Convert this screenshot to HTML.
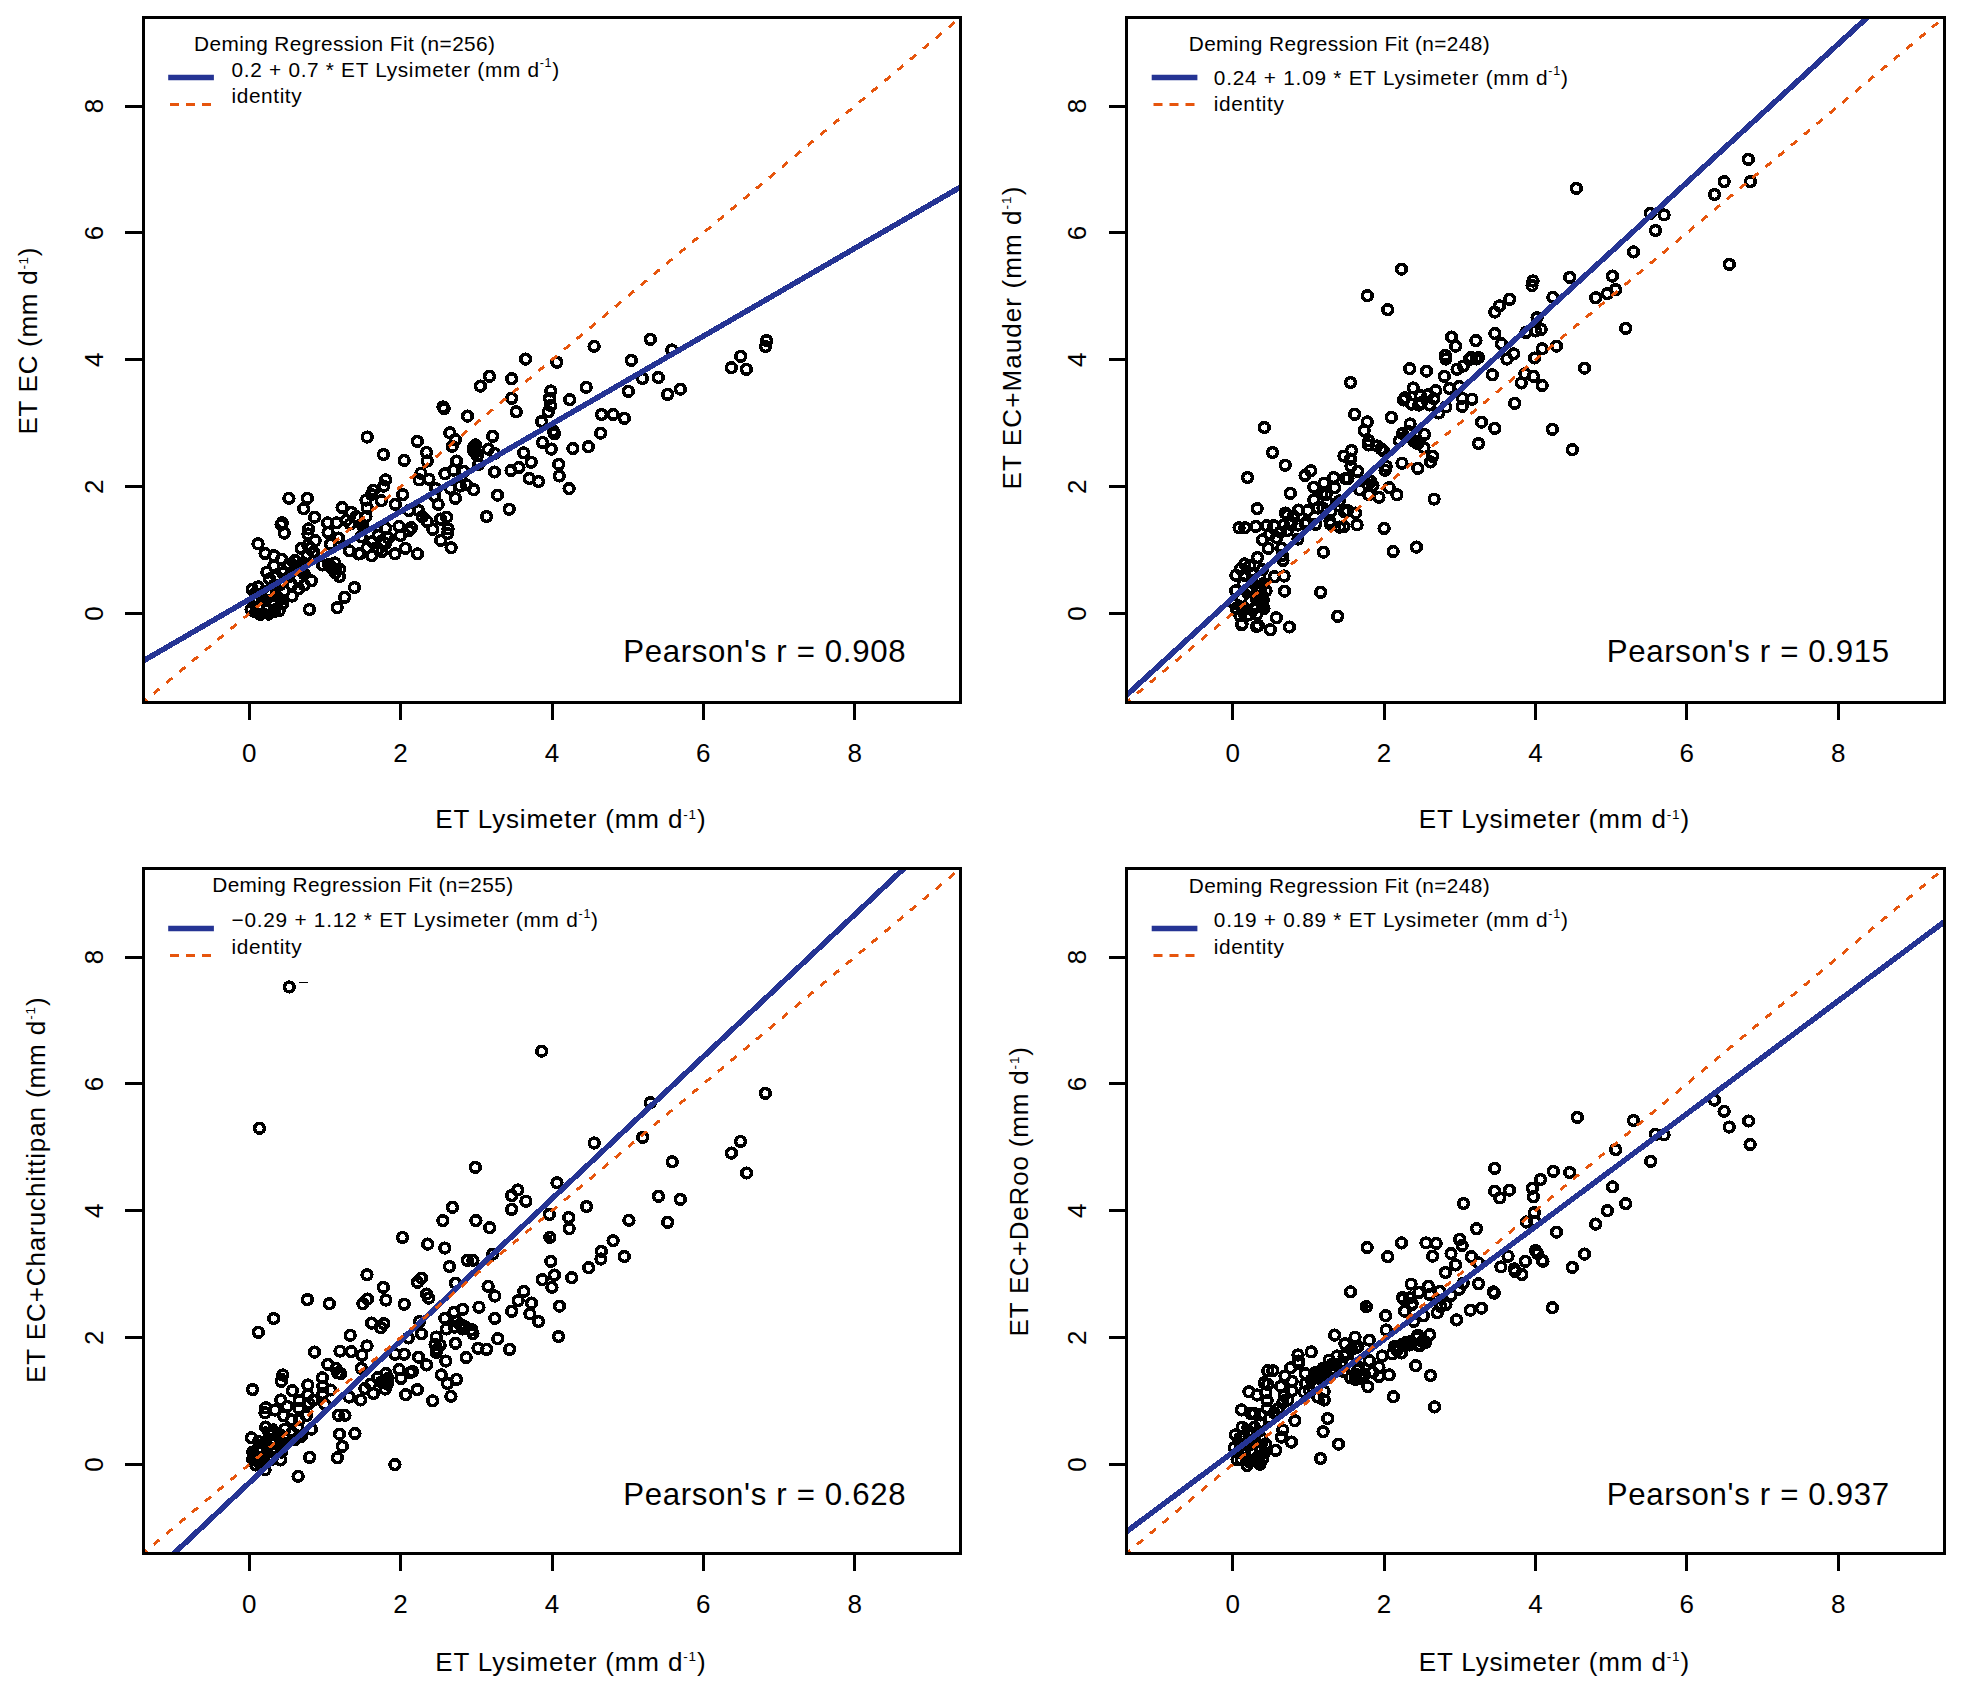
<!DOCTYPE html>
<html><head><meta charset="utf-8"><title>Deming regression</title>
<style>
html,body{margin:0;padding:0;background:#fff;}
svg{display:block;font-family:"Liberation Sans",Arial,sans-serif;fill:#000;}
text{stroke:none}
.pt,.ln,.ax{shape-rendering:crispEdges}
.ax{stroke:#000;stroke-width:3;fill:none;stroke-linecap:butt}
.pt circle{fill:none;stroke:#000;stroke-width:3.6}
.pt circle.f{fill:#000;stroke:none}
.fit{stroke:#253494;stroke-width:5.5;fill:none}
.idn{stroke:#E6550D;stroke-width:2.9;fill:none;stroke-dasharray:7.7 9.03}
.idl{stroke:#E6550D;stroke-width:3;fill:none;stroke-dasharray:9 7}
.tk{font-size:26px;text-anchor:middle}
.lb{font-size:26px}
.lg{font-size:20.8px}
.pr{font-size:31.2px}
.su{font-size:13.5px}
.sl{font-size:12.5px}
</style></head><body>
<svg width="1962" height="1694" viewBox="0 0 1962 1694">
<rect x="0" y="0" width="1962" height="1694" fill="#fff"/>
<defs>
<clipPath id="c0"><rect x="143.2" y="17.3" width="817.5" height="685.0"/></clipPath>
<clipPath id="c1"><rect x="1126.7" y="17.3" width="817.5" height="685.0"/></clipPath>
<clipPath id="c2"><rect x="143.2" y="868.3" width="817.5" height="685.0"/></clipPath>
<clipPath id="c3"><rect x="1126.7" y="868.3" width="817.5" height="685.0"/></clipPath>
</defs>
<g id="panel1">
<g class="pt" clip-path="url(#c0)">
<circle cx="258.0" cy="543.8" r="4.85"/>
<circle cx="284.3" cy="533.1" r="4.85"/>
<circle cx="265.1" cy="553.5" r="4.85"/>
<circle cx="273.9" cy="555.7" r="4.85"/>
<circle cx="281.6" cy="559.4" r="4.85"/>
<circle cx="273.9" cy="565.8" r="4.85"/>
<circle cx="266.9" cy="572.2" r="4.85"/>
<circle cx="307.9" cy="534.0" r="4.85"/>
<circle cx="315.2" cy="540.7" r="4.85"/>
<circle cx="301.2" cy="548.3" r="4.85"/>
<circle cx="307.9" cy="545.3" r="4.85"/>
<circle cx="313.4" cy="552.0" r="4.85"/>
<circle cx="328.1" cy="532.4" r="4.85"/>
<circle cx="338.5" cy="538.0" r="4.85"/>
<circle cx="330.5" cy="544.1" r="4.85"/>
<circle cx="349.5" cy="550.8" r="4.85"/>
<circle cx="358.7" cy="553.9" r="4.85"/>
<circle cx="322.6" cy="564.9" r="4.85"/>
<circle cx="334.8" cy="563.0" r="4.85"/>
<circle cx="339.7" cy="569.1" r="4.85"/>
<circle cx="339.4" cy="576.5" r="4.85"/>
<circle cx="354.4" cy="587.5" r="4.85"/>
<circle cx="344.6" cy="597.3" r="4.85"/>
<circle cx="337.2" cy="607.7" r="4.85"/>
<circle cx="309.4" cy="609.5" r="4.85"/>
<circle cx="311.3" cy="580.8" r="4.85"/>
<circle cx="298.7" cy="588.7" r="4.85"/>
<circle cx="292.0" cy="596.1" r="4.85"/>
<circle cx="279.1" cy="610.7" r="4.85"/>
<circle cx="252.2" cy="589.3" r="4.85"/>
<circle cx="251.0" cy="609.5" r="4.85"/>
<circle cx="260.2" cy="614.4" r="4.85"/>
<circle cx="258.3" cy="606.5" r="4.85"/>
<circle cx="267.5" cy="609.5" r="4.85"/>
<circle cx="265.7" cy="600.3" r="4.85"/>
<circle cx="274.3" cy="611.3" r="4.85"/>
<circle cx="273.6" cy="603.4" r="4.85"/>
<circle cx="260.2" cy="594.2" r="4.85"/>
<circle cx="258.3" cy="586.9" r="4.85"/>
<circle cx="267.5" cy="591.2" r="4.85"/>
<circle cx="276.7" cy="596.1" r="4.85"/>
<circle cx="282.8" cy="603.4" r="4.85"/>
<circle cx="284.0" cy="591.2" r="4.85"/>
<circle cx="292.0" cy="585.0" r="4.85"/>
<circle cx="298.1" cy="578.9" r="4.85"/>
<circle cx="304.2" cy="574.0" r="4.85"/>
<circle cx="295.0" cy="567.9" r="4.85"/>
<circle cx="288.9" cy="564.3" r="4.85"/>
<circle cx="295.0" cy="560.6" r="4.85"/>
<circle cx="301.2" cy="564.3" r="4.85"/>
<circle cx="282.8" cy="572.8" r="4.85"/>
<circle cx="276.7" cy="576.5" r="4.85"/>
<circle cx="269.4" cy="578.9" r="4.85"/>
<circle cx="274.3" cy="585.0" r="4.85"/>
<circle cx="304.2" cy="585.0" r="4.85"/>
<circle cx="288.9" cy="576.5" r="4.85"/>
<circle cx="331.7" cy="567.9" r="4.85"/>
<circle cx="328.7" cy="564.3" r="4.85"/>
<circle cx="335.4" cy="572.8" r="4.85"/>
<circle cx="307.3" cy="554.5" r="4.85"/>
<circle cx="310.3" cy="548.3" r="4.85"/>
<circle cx="255.3" cy="600.3" r="4.85"/>
<circle cx="279.8" cy="585.0" r="4.85"/>
<circle cx="301.2" cy="569.8" r="4.85"/>
<circle cx="367.2" cy="437.1" r="4.85"/>
<circle cx="383.4" cy="454.5" r="4.85"/>
<circle cx="404.2" cy="460.4" r="4.85"/>
<circle cx="417.4" cy="441.4" r="4.85"/>
<circle cx="426.5" cy="452.4" r="4.85"/>
<circle cx="427.2" cy="461.0" r="4.85"/>
<circle cx="449.8" cy="432.8" r="4.85"/>
<circle cx="455.3" cy="439.6" r="4.85"/>
<circle cx="452.2" cy="446.3" r="4.85"/>
<circle cx="473.6" cy="447.5" r="4.85"/>
<circle cx="475.5" cy="451.8" r="4.85"/>
<circle cx="456.5" cy="461.0" r="4.85"/>
<circle cx="453.5" cy="470.2" r="4.85"/>
<circle cx="444.9" cy="473.8" r="4.85"/>
<circle cx="463.9" cy="471.4" r="4.85"/>
<circle cx="421.0" cy="473.2" r="4.85"/>
<circle cx="419.2" cy="479.9" r="4.85"/>
<circle cx="429.0" cy="479.3" r="4.85"/>
<circle cx="385.6" cy="479.9" r="4.85"/>
<circle cx="383.7" cy="486.1" r="4.85"/>
<circle cx="373.3" cy="490.3" r="4.85"/>
<circle cx="371.5" cy="494.6" r="4.85"/>
<circle cx="366.0" cy="500.1" r="4.85"/>
<circle cx="381.3" cy="500.7" r="4.85"/>
<circle cx="402.7" cy="494.6" r="4.85"/>
<circle cx="395.4" cy="504.4" r="4.85"/>
<circle cx="367.2" cy="508.1" r="4.85"/>
<circle cx="342.1" cy="507.5" r="4.85"/>
<circle cx="351.3" cy="512.4" r="4.85"/>
<circle cx="288.9" cy="498.3" r="4.85"/>
<circle cx="307.3" cy="498.3" r="4.85"/>
<circle cx="303.6" cy="508.7" r="4.85"/>
<circle cx="314.6" cy="517.2" r="4.85"/>
<circle cx="282.2" cy="522.8" r="4.85"/>
<circle cx="281.0" cy="524.6" r="4.85"/>
<circle cx="327.5" cy="522.8" r="4.85"/>
<circle cx="336.6" cy="522.8" r="4.85"/>
<circle cx="346.4" cy="520.3" r="4.85"/>
<circle cx="356.2" cy="516.6" r="4.85"/>
<circle cx="366.0" cy="516.6" r="4.85"/>
<circle cx="362.3" cy="525.2" r="4.85"/>
<circle cx="435.7" cy="488.5" r="4.85"/>
<circle cx="434.5" cy="495.8" r="4.85"/>
<circle cx="438.2" cy="504.4" r="4.85"/>
<circle cx="455.3" cy="498.3" r="4.85"/>
<circle cx="450.4" cy="488.5" r="4.85"/>
<circle cx="460.2" cy="486.1" r="4.85"/>
<circle cx="466.3" cy="484.8" r="4.85"/>
<circle cx="473.6" cy="489.7" r="4.85"/>
<circle cx="418.6" cy="510.5" r="4.85"/>
<circle cx="422.3" cy="516.6" r="4.85"/>
<circle cx="427.2" cy="521.5" r="4.85"/>
<circle cx="440.6" cy="519.1" r="4.85"/>
<circle cx="446.7" cy="517.2" r="4.85"/>
<circle cx="399.0" cy="526.4" r="4.85"/>
<circle cx="385.6" cy="528.3" r="4.85"/>
<circle cx="411.3" cy="527.6" r="4.85"/>
<circle cx="448.0" cy="528.9" r="4.85"/>
<circle cx="308.5" cy="528.9" r="4.85"/>
<circle cx="350.1" cy="524.0" r="4.85"/>
<circle cx="408.8" cy="510.5" r="4.85"/>
<circle cx="486.6" cy="516.5" r="4.85"/>
<circle cx="509.2" cy="509.2" r="4.85"/>
<circle cx="432.8" cy="529.4" r="4.85"/>
<circle cx="447.5" cy="533.6" r="4.85"/>
<circle cx="440.7" cy="540.4" r="4.85"/>
<circle cx="451.1" cy="547.7" r="4.85"/>
<circle cx="417.5" cy="553.8" r="4.85"/>
<circle cx="405.3" cy="548.3" r="4.85"/>
<circle cx="394.9" cy="553.8" r="4.85"/>
<circle cx="400.4" cy="535.5" r="4.85"/>
<circle cx="378.3" cy="535.5" r="4.85"/>
<circle cx="372.2" cy="541.6" r="4.85"/>
<circle cx="367.3" cy="547.7" r="4.85"/>
<circle cx="371.6" cy="555.7" r="4.85"/>
<circle cx="360.0" cy="553.8" r="4.85"/>
<circle cx="378.3" cy="548.9" r="4.85"/>
<circle cx="384.5" cy="542.8" r="4.85"/>
<circle cx="388.1" cy="537.9" r="4.85"/>
<circle cx="361.2" cy="536.7" r="4.85"/>
<circle cx="408.9" cy="530.6" r="4.85"/>
<circle cx="382.0" cy="551.4" r="4.85"/>
<circle cx="480.4" cy="386.1" r="4.85"/>
<circle cx="511.6" cy="398.3" r="4.85"/>
<circle cx="516.2" cy="411.8" r="4.85"/>
<circle cx="550.7" cy="391.0" r="4.85"/>
<circle cx="549.5" cy="398.3" r="4.85"/>
<circle cx="550.7" cy="405.7" r="4.85"/>
<circle cx="548.3" cy="411.8" r="4.85"/>
<circle cx="541.6" cy="421.6" r="4.85"/>
<circle cx="569.7" cy="399.6" r="4.85"/>
<circle cx="586.2" cy="387.3" r="4.85"/>
<circle cx="628.4" cy="391.3" r="4.85"/>
<circle cx="667.6" cy="394.4" r="4.85"/>
<circle cx="680.4" cy="389.2" r="4.85"/>
<circle cx="601.5" cy="414.5" r="4.85"/>
<circle cx="613.1" cy="414.5" r="4.85"/>
<circle cx="624.4" cy="418.3" r="4.85"/>
<circle cx="600.6" cy="433.2" r="4.85"/>
<circle cx="588.4" cy="446.7" r="4.85"/>
<circle cx="572.8" cy="448.5" r="4.85"/>
<circle cx="553.2" cy="430.8" r="4.85"/>
<circle cx="554.4" cy="433.8" r="4.85"/>
<circle cx="542.5" cy="442.4" r="4.85"/>
<circle cx="551.3" cy="449.1" r="4.85"/>
<circle cx="492.6" cy="436.3" r="4.85"/>
<circle cx="475.5" cy="444.8" r="4.85"/>
<circle cx="488.3" cy="449.1" r="4.85"/>
<circle cx="473.7" cy="450.9" r="4.85"/>
<circle cx="477.3" cy="455.8" r="4.85"/>
<circle cx="494.5" cy="453.4" r="4.85"/>
<circle cx="478.6" cy="464.4" r="4.85"/>
<circle cx="523.6" cy="452.8" r="4.85"/>
<circle cx="531.2" cy="462.2" r="4.85"/>
<circle cx="518.9" cy="467.5" r="4.85"/>
<circle cx="511.0" cy="470.5" r="4.85"/>
<circle cx="494.5" cy="472.0" r="4.85"/>
<circle cx="529.3" cy="478.5" r="4.85"/>
<circle cx="538.5" cy="481.5" r="4.85"/>
<circle cx="558.7" cy="464.4" r="4.85"/>
<circle cx="559.3" cy="476.0" r="4.85"/>
<circle cx="569.1" cy="488.6" r="4.85"/>
<circle cx="497.5" cy="495.2" r="4.85"/>
<circle cx="525.6" cy="359.1" r="4.85"/>
<circle cx="556.8" cy="362.2" r="4.85"/>
<circle cx="594.1" cy="346.3" r="4.85"/>
<circle cx="650.4" cy="339.3" r="4.85"/>
<circle cx="671.8" cy="350.0" r="4.85"/>
<circle cx="631.4" cy="360.4" r="4.85"/>
<circle cx="642.4" cy="378.5" r="4.85"/>
<circle cx="658.3" cy="377.5" r="4.85"/>
<circle cx="511.6" cy="378.7" r="4.85"/>
<circle cx="489.5" cy="376.3" r="4.85"/>
<circle cx="740.7" cy="356.3" r="4.85"/>
<circle cx="731.3" cy="367.7" r="4.85"/>
<circle cx="746.4" cy="369.3" r="4.85"/>
<circle cx="766.6" cy="340.6" r="4.85"/>
<circle cx="765.4" cy="346.5" r="4.85"/>
<circle cx="443.0" cy="406.9" r="4.85"/>
<circle cx="444.2" cy="408.7" r="4.85"/>
<circle cx="467.5" cy="416.1" r="4.85"/>
<circle class="f" cx="253.5" cy="592.9" r="5"/>
<circle class="f" cx="253.5" cy="605.1" r="5"/>
<circle class="f" cx="253.5" cy="612.8" r="5"/>
<circle class="f" cx="264.2" cy="589.8" r="5"/>
<circle class="f" cx="264.2" cy="602.1" r="5"/>
<circle class="f" cx="264.2" cy="612.8" r="5"/>
<circle class="f" cx="274.9" cy="597.5" r="5"/>
<circle class="f" cx="274.9" cy="608.2" r="5"/>
<circle class="f" cx="282.6" cy="600.6" r="5"/>
<circle class="f" cx="259.6" cy="615.8" r="5"/>
<circle class="f" cx="268.8" cy="615.8" r="5"/>
<circle class="f" cx="291.7" cy="562.3" r="5"/>
<circle class="f" cx="297.9" cy="570.0" r="5"/>
<circle class="f" cx="305.5" cy="562.3" r="5"/>
<circle class="f" cx="305.5" cy="574.6" r="5"/>
<circle class="f" cx="291.7" cy="573.0" r="5"/>
<circle class="f" cx="333.0" cy="563.9" r="3"/>
<circle class="f" cx="339.1" cy="568.4" r="3"/>
<circle class="f" cx="383.5" cy="537.9" r="3"/>
<circle class="f" cx="389.6" cy="542.4" r="3"/>
<circle class="f" cx="422.5" cy="516.5" r="3"/>
<circle class="f" cx="380.4" cy="537.9" r="3.5"/>
<circle class="f" cx="388.1" cy="545.5" r="3.5"/>
<circle class="f" cx="374.3" cy="545.5" r="3.5"/>
<circle class="f" cx="383.5" cy="548.6" r="3.5"/>
<circle class="f" cx="392.7" cy="537.9" r="3.5"/>
<circle class="f" cx="362.1" cy="525.6" r="3.5"/>
<circle class="f" cx="352.9" cy="516.5" r="3.5"/>
</g>
<g class="ln" clip-path="url(#c0)">
<line class="fit" x1="139.4" y1="663.1" x2="968.3" y2="182.5"/>
<line class="idn" stroke-dashoffset="3.1" x1="143.2" y1="702.3" x2="960.7" y2="17.3"/>
</g>
<rect class="ax" x="143.2" y="17.3" width="817.5" height="685.0"/>
<line class="ax" x1="249.2" y1="702.3" x2="249.2" y2="720.3"/>
<text class="tk" x="249.2" y="761.5">0</text>
<line class="ax" x1="143.2" y1="613.5" x2="125.2" y2="613.5"/>
<text class="tk" transform="translate(102.7,613.5) rotate(-90)">0</text>
<line class="ax" x1="400.6" y1="702.3" x2="400.6" y2="720.3"/>
<text class="tk" x="400.6" y="761.5">2</text>
<line class="ax" x1="143.2" y1="486.7" x2="125.2" y2="486.7"/>
<text class="tk" transform="translate(102.7,486.7) rotate(-90)">2</text>
<line class="ax" x1="552.0" y1="702.3" x2="552.0" y2="720.3"/>
<text class="tk" x="552.0" y="761.5">4</text>
<line class="ax" x1="143.2" y1="359.8" x2="125.2" y2="359.8"/>
<text class="tk" transform="translate(102.7,359.8) rotate(-90)">4</text>
<line class="ax" x1="703.3" y1="702.3" x2="703.3" y2="720.3"/>
<text class="tk" x="703.3" y="761.5">6</text>
<line class="ax" x1="143.2" y1="232.9" x2="125.2" y2="232.9"/>
<text class="tk" transform="translate(102.7,232.9) rotate(-90)">6</text>
<line class="ax" x1="854.7" y1="702.3" x2="854.7" y2="720.3"/>
<text class="tk" x="854.7" y="761.5">8</text>
<line class="ax" x1="143.2" y1="106.1" x2="125.2" y2="106.1"/>
<text class="tk" transform="translate(102.7,106.1) rotate(-90)">8</text>
<text class="lb" x="435.3" y="828.2" textLength="270.3" lengthAdjust="spacing">ET Lysimeter (mm d<tspan class="su" dy="-9.2">-1</tspan><tspan dy="9.2">)</tspan></text>
<text class="lb" transform="translate(37.0,434.5) rotate(-90)" textLength="187" lengthAdjust="spacing">ET EC (mm d<tspan class="su" dy="-9.2">-1</tspan><tspan dy="9.2">)</tspan></text>
<text class="lg" id="t0" x="194.0" y="50.5"textLength="301" lengthAdjust="spacing">Deming Regression Fit (n=256)</text>
<line class="fit" x1="168.2" y1="77.5" x2="213.9" y2="77.5"/>
<text class="lg" id="e0" x="231.6" y="76.5" textLength="327.5" lengthAdjust="spacing">0.2 + 0.7 * ET Lysimeter (mm d<tspan class="sl" dy="-9.3">-1</tspan><tspan dy="9.3">)</tspan></text>
<line class="idl" x1="170.0" y1="104.5" x2="212.2" y2="104.5"/>
<text class="lg" x="231.6" y="103.4" textLength="70" lengthAdjust="spacing">identity</text>
<text class="pr" id="r0" x="623.2" y="662.4" textLength="282.4" lengthAdjust="spacing">Pearson's r = 0.908</text>
</g>
<g id="panel2">
<g class="pt" clip-path="url(#c1)">
<circle cx="1239.1" cy="527.8" r="4.85"/>
<circle cx="1244.8" cy="527.8" r="4.85"/>
<circle cx="1255.8" cy="526.4" r="4.85"/>
<circle cx="1266.8" cy="525.7" r="4.85"/>
<circle cx="1273.8" cy="525.7" r="4.85"/>
<circle cx="1283.8" cy="525.0" r="4.85"/>
<circle cx="1290.8" cy="524.3" r="4.85"/>
<circle cx="1297.9" cy="525.0" r="4.85"/>
<circle cx="1305.0" cy="523.5" r="4.85"/>
<circle cx="1262.5" cy="539.8" r="4.85"/>
<circle cx="1268.2" cy="548.3" r="4.85"/>
<circle cx="1269.6" cy="534.2" r="4.85"/>
<circle cx="1276.7" cy="537.7" r="4.85"/>
<circle cx="1280.2" cy="532.0" r="4.85"/>
<circle cx="1287.3" cy="530.6" r="4.85"/>
<circle cx="1257.5" cy="557.5" r="4.85"/>
<circle cx="1249.8" cy="566.0" r="4.85"/>
<circle cx="1240.5" cy="568.9" r="4.85"/>
<circle cx="1235.9" cy="575.3" r="4.85"/>
<circle cx="1281.6" cy="548.3" r="4.85"/>
<circle cx="1282.3" cy="555.4" r="4.85"/>
<circle cx="1283.0" cy="560.4" r="4.85"/>
<circle cx="1297.9" cy="539.1" r="4.85"/>
<circle cx="1315.6" cy="524.3" r="4.85"/>
<circle cx="1330.5" cy="524.3" r="4.85"/>
<circle cx="1323.4" cy="552.2" r="4.85"/>
<circle cx="1274.5" cy="576.7" r="4.85"/>
<circle cx="1284.1" cy="576.0" r="4.85"/>
<circle cx="1284.5" cy="591.2" r="4.85"/>
<circle cx="1320.6" cy="592.3" r="4.85"/>
<circle cx="1337.6" cy="616.3" r="4.85"/>
<circle cx="1276.3" cy="617.8" r="4.85"/>
<circle cx="1289.4" cy="627.0" r="4.85"/>
<circle cx="1270.3" cy="629.8" r="4.85"/>
<circle cx="1258.3" cy="625.5" r="4.85"/>
<circle cx="1256.5" cy="626.6" r="4.85"/>
<circle cx="1241.6" cy="624.8" r="4.85"/>
<circle cx="1242.1" cy="623.8" r="4.85"/>
<circle cx="1235.6" cy="590.8" r="4.85"/>
<circle cx="1243.4" cy="583.8" r="4.85"/>
<circle cx="1251.9" cy="580.2" r="4.85"/>
<circle cx="1259.7" cy="576.7" r="4.85"/>
<circle cx="1248.3" cy="590.8" r="4.85"/>
<circle cx="1256.8" cy="587.3" r="4.85"/>
<circle cx="1263.9" cy="583.8" r="4.85"/>
<circle cx="1266.0" cy="590.8" r="4.85"/>
<circle cx="1241.3" cy="597.9" r="4.85"/>
<circle cx="1249.8" cy="601.5" r="4.85"/>
<circle cx="1259.0" cy="597.9" r="4.85"/>
<circle cx="1262.5" cy="605.0" r="4.85"/>
<circle cx="1254.0" cy="608.5" r="4.85"/>
<circle cx="1244.8" cy="608.5" r="4.85"/>
<circle cx="1236.3" cy="608.5" r="4.85"/>
<circle cx="1239.8" cy="615.6" r="4.85"/>
<circle cx="1248.3" cy="614.9" r="4.85"/>
<circle cx="1256.8" cy="614.2" r="4.85"/>
<circle cx="1263.9" cy="608.5" r="4.85"/>
<circle cx="1234.2" cy="603.6" r="4.85"/>
<circle cx="1259.7" cy="592.3" r="4.85"/>
<circle cx="1244.8" cy="575.3" r="4.85"/>
<circle cx="1251.9" cy="573.8" r="4.85"/>
<circle cx="1262.5" cy="569.6" r="4.85"/>
<circle cx="1339.7" cy="527.1" r="4.85"/>
<circle cx="1244.8" cy="563.9" r="4.85"/>
<circle cx="1264.3" cy="427.5" r="4.85"/>
<circle cx="1272.5" cy="452.5" r="4.85"/>
<circle cx="1285.2" cy="465.2" r="4.85"/>
<circle cx="1247.5" cy="477.5" r="4.85"/>
<circle cx="1290.3" cy="493.3" r="4.85"/>
<circle cx="1257.2" cy="508.6" r="4.85"/>
<circle cx="1305.1" cy="475.4" r="4.85"/>
<circle cx="1310.7" cy="470.8" r="4.85"/>
<circle cx="1354.6" cy="414.3" r="4.85"/>
<circle cx="1367.3" cy="421.9" r="4.85"/>
<circle cx="1364.2" cy="430.6" r="4.85"/>
<circle cx="1391.3" cy="417.3" r="4.85"/>
<circle cx="1410.1" cy="424.0" r="4.85"/>
<circle cx="1368.8" cy="440.8" r="4.85"/>
<circle cx="1368.3" cy="444.9" r="4.85"/>
<circle cx="1377.0" cy="445.9" r="4.85"/>
<circle cx="1381.1" cy="448.9" r="4.85"/>
<circle cx="1383.6" cy="451.0" r="4.85"/>
<circle cx="1351.5" cy="450.5" r="4.85"/>
<circle cx="1343.9" cy="456.1" r="4.85"/>
<circle cx="1350.5" cy="459.1" r="4.85"/>
<circle cx="1351.0" cy="466.3" r="4.85"/>
<circle cx="1357.6" cy="471.4" r="4.85"/>
<circle cx="1333.7" cy="477.5" r="4.85"/>
<circle cx="1324.0" cy="483.1" r="4.85"/>
<circle cx="1313.8" cy="487.2" r="4.85"/>
<circle cx="1334.7" cy="487.7" r="4.85"/>
<circle cx="1345.4" cy="478.5" r="4.85"/>
<circle cx="1347.9" cy="478.5" r="4.85"/>
<circle cx="1386.2" cy="466.3" r="4.85"/>
<circle cx="1385.1" cy="470.3" r="4.85"/>
<circle cx="1402.0" cy="463.2" r="4.85"/>
<circle cx="1417.8" cy="468.3" r="4.85"/>
<circle cx="1370.9" cy="481.5" r="4.85"/>
<circle cx="1367.8" cy="484.6" r="4.85"/>
<circle cx="1372.9" cy="485.6" r="4.85"/>
<circle cx="1359.7" cy="489.7" r="4.85"/>
<circle cx="1368.8" cy="494.8" r="4.85"/>
<circle cx="1379.0" cy="497.3" r="4.85"/>
<circle cx="1389.2" cy="487.7" r="4.85"/>
<circle cx="1396.9" cy="494.8" r="4.85"/>
<circle cx="1313.8" cy="499.9" r="4.85"/>
<circle cx="1321.9" cy="493.8" r="4.85"/>
<circle cx="1326.0" cy="494.8" r="4.85"/>
<circle cx="1327.0" cy="501.9" r="4.85"/>
<circle cx="1317.9" cy="508.1" r="4.85"/>
<circle cx="1323.0" cy="508.1" r="4.85"/>
<circle cx="1298.5" cy="510.1" r="4.85"/>
<circle cx="1307.7" cy="510.6" r="4.85"/>
<circle cx="1285.2" cy="513.1" r="4.85"/>
<circle cx="1287.3" cy="515.2" r="4.85"/>
<circle cx="1293.4" cy="516.2" r="4.85"/>
<circle cx="1347.4" cy="510.6" r="4.85"/>
<circle cx="1344.4" cy="511.6" r="4.85"/>
<circle cx="1355.6" cy="513.1" r="4.85"/>
<circle cx="1339.3" cy="500.9" r="4.85"/>
<circle cx="1331.1" cy="511.1" r="4.85"/>
<circle cx="1343.9" cy="526.4" r="4.85"/>
<circle cx="1357.1" cy="524.9" r="4.85"/>
<circle cx="1384.1" cy="528.4" r="4.85"/>
<circle cx="1402.5" cy="433.6" r="4.85"/>
<circle cx="1399.4" cy="440.8" r="4.85"/>
<circle cx="1408.6" cy="431.6" r="4.85"/>
<circle cx="1413.7" cy="440.8" r="4.85"/>
<circle cx="1417.8" cy="443.8" r="4.85"/>
<circle cx="1411.6" cy="404.1" r="4.85"/>
<circle cx="1403.5" cy="400.0" r="4.85"/>
<circle cx="1418.8" cy="405.1" r="4.85"/>
<circle cx="1306.6" cy="522.3" r="4.85"/>
<circle cx="1291.4" cy="522.3" r="4.85"/>
<circle cx="1393.2" cy="551.5" r="4.85"/>
<circle cx="1416.4" cy="547.1" r="4.85"/>
<circle cx="1330.0" cy="521.4" r="4.85"/>
<circle cx="1409.7" cy="368.7" r="4.85"/>
<circle cx="1426.5" cy="371.2" r="4.85"/>
<circle cx="1444.3" cy="376.3" r="4.85"/>
<circle cx="1457.1" cy="369.2" r="4.85"/>
<circle cx="1463.2" cy="366.1" r="4.85"/>
<circle cx="1445.9" cy="359.0" r="4.85"/>
<circle cx="1476.5" cy="359.0" r="4.85"/>
<circle cx="1469.3" cy="359.5" r="4.85"/>
<circle cx="1507.0" cy="359.0" r="4.85"/>
<circle cx="1492.3" cy="374.8" r="4.85"/>
<circle cx="1534.6" cy="358.0" r="4.85"/>
<circle cx="1584.5" cy="368.2" r="4.85"/>
<circle cx="1524.9" cy="373.8" r="4.85"/>
<circle cx="1533.5" cy="376.3" r="4.85"/>
<circle cx="1521.3" cy="382.9" r="4.85"/>
<circle cx="1542.2" cy="385.5" r="4.85"/>
<circle cx="1514.7" cy="403.3" r="4.85"/>
<circle cx="1413.3" cy="388.0" r="4.85"/>
<circle cx="1405.1" cy="397.7" r="4.85"/>
<circle cx="1420.4" cy="395.7" r="4.85"/>
<circle cx="1421.4" cy="402.8" r="4.85"/>
<circle cx="1428.0" cy="394.7" r="4.85"/>
<circle cx="1429.6" cy="404.9" r="4.85"/>
<circle cx="1435.7" cy="390.6" r="4.85"/>
<circle cx="1433.6" cy="398.7" r="4.85"/>
<circle cx="1449.4" cy="388.5" r="4.85"/>
<circle cx="1459.1" cy="386.5" r="4.85"/>
<circle cx="1462.2" cy="398.2" r="4.85"/>
<circle cx="1471.9" cy="399.2" r="4.85"/>
<circle cx="1462.2" cy="406.4" r="4.85"/>
<circle cx="1445.9" cy="406.9" r="4.85"/>
<circle cx="1438.7" cy="413.0" r="4.85"/>
<circle cx="1424.5" cy="434.4" r="4.85"/>
<circle cx="1416.8" cy="441.5" r="4.85"/>
<circle cx="1424.0" cy="447.7" r="4.85"/>
<circle cx="1481.5" cy="422.2" r="4.85"/>
<circle cx="1494.8" cy="428.3" r="4.85"/>
<circle cx="1478.5" cy="443.6" r="4.85"/>
<circle cx="1552.4" cy="429.3" r="4.85"/>
<circle cx="1572.3" cy="449.7" r="4.85"/>
<circle cx="1432.6" cy="456.3" r="4.85"/>
<circle cx="1430.6" cy="461.9" r="4.85"/>
<circle cx="1434.1" cy="499.1" r="4.85"/>
<circle cx="1401.5" cy="269.2" r="4.85"/>
<circle cx="1533.0" cy="281.0" r="4.85"/>
<circle cx="1532.0" cy="285.6" r="4.85"/>
<circle cx="1569.7" cy="277.4" r="4.85"/>
<circle cx="1509.6" cy="299.3" r="4.85"/>
<circle cx="1499.4" cy="305.9" r="4.85"/>
<circle cx="1494.8" cy="312.1" r="4.85"/>
<circle cx="1552.9" cy="297.3" r="4.85"/>
<circle cx="1595.7" cy="297.8" r="4.85"/>
<circle cx="1537.1" cy="317.7" r="4.85"/>
<circle cx="1541.2" cy="329.4" r="4.85"/>
<circle cx="1535.6" cy="330.9" r="4.85"/>
<circle cx="1525.9" cy="332.4" r="4.85"/>
<circle cx="1494.8" cy="333.5" r="4.85"/>
<circle cx="1501.4" cy="343.7" r="4.85"/>
<circle cx="1451.5" cy="337.0" r="4.85"/>
<circle cx="1455.6" cy="346.2" r="4.85"/>
<circle cx="1445.4" cy="355.4" r="4.85"/>
<circle cx="1475.9" cy="340.6" r="4.85"/>
<circle cx="1471.4" cy="357.4" r="4.85"/>
<circle cx="1478.5" cy="357.4" r="4.85"/>
<circle cx="1513.7" cy="353.9" r="4.85"/>
<circle cx="1542.2" cy="348.8" r="4.85"/>
<circle cx="1556.5" cy="346.2" r="4.85"/>
<circle cx="1576.4" cy="188.4" r="4.85"/>
<circle cx="1748.4" cy="159.4" r="4.85"/>
<circle cx="1750.4" cy="181.6" r="4.85"/>
<circle cx="1724.2" cy="181.6" r="4.85"/>
<circle cx="1714.6" cy="194.5" r="4.85"/>
<circle cx="1650.3" cy="213.4" r="4.85"/>
<circle cx="1664.1" cy="214.9" r="4.85"/>
<circle cx="1655.4" cy="230.5" r="4.85"/>
<circle cx="1633.5" cy="251.9" r="4.85"/>
<circle cx="1729.3" cy="264.4" r="4.85"/>
<circle cx="1612.4" cy="276.1" r="4.85"/>
<circle cx="1615.6" cy="289.6" r="4.85"/>
<circle cx="1607.4" cy="293.6" r="4.85"/>
<circle cx="1625.7" cy="328.3" r="4.85"/>
<circle cx="1367.3" cy="295.7" r="4.85"/>
<circle cx="1387.7" cy="309.6" r="4.85"/>
<circle cx="1350.5" cy="382.5" r="4.85"/>
<circle class="f" cx="1238.6" cy="604.3" r="5"/>
<circle class="f" cx="1246.8" cy="594.1" r="5"/>
<circle class="f" cx="1254.9" cy="585.9" r="5"/>
<circle class="f" cx="1263.1" cy="581.8" r="5"/>
<circle class="f" cx="1246.8" cy="608.3" r="5"/>
<circle class="f" cx="1254.9" cy="600.2" r="5"/>
<circle class="f" cx="1263.1" cy="594.1" r="5"/>
<circle class="f" cx="1242.7" cy="614.5" r="5"/>
<circle class="f" cx="1252.9" cy="612.4" r="5"/>
<circle class="f" cx="1261.1" cy="606.3" r="5"/>
<circle class="f" cx="1265.1" cy="600.2" r="5"/>
<circle class="f" cx="1271.3" cy="530.9" r="3"/>
<circle class="f" cx="1279.4" cy="534.9" r="3"/>
<circle class="f" cx="1318.1" cy="494.2" r="3"/>
<circle class="f" cx="1365.0" cy="481.9" r="3"/>
<circle class="f" cx="1373.2" cy="484.0" r="3"/>
<circle class="f" cx="1401.7" cy="435.0" r="3"/>
<circle class="f" cx="1414.0" cy="441.2" r="3"/>
</g>
<g class="ln" clip-path="url(#c1)">
<line class="fit" x1="1122.9" y1="698.5" x2="1951.8" y2="-59.9"/>
<line class="idn" stroke-dashoffset="3.1" x1="1126.7" y1="702.3" x2="1944.2" y2="17.3"/>
</g>
<rect class="ax" x="1126.7" y="17.3" width="817.5" height="685.0"/>
<line class="ax" x1="1232.7" y1="702.3" x2="1232.7" y2="720.3"/>
<text class="tk" x="1232.7" y="761.5">0</text>
<line class="ax" x1="1126.7" y1="613.5" x2="1108.7" y2="613.5"/>
<text class="tk" transform="translate(1086.2,613.5) rotate(-90)">0</text>
<line class="ax" x1="1384.1" y1="702.3" x2="1384.1" y2="720.3"/>
<text class="tk" x="1384.1" y="761.5">2</text>
<line class="ax" x1="1126.7" y1="486.7" x2="1108.7" y2="486.7"/>
<text class="tk" transform="translate(1086.2,486.7) rotate(-90)">2</text>
<line class="ax" x1="1535.5" y1="702.3" x2="1535.5" y2="720.3"/>
<text class="tk" x="1535.5" y="761.5">4</text>
<line class="ax" x1="1126.7" y1="359.8" x2="1108.7" y2="359.8"/>
<text class="tk" transform="translate(1086.2,359.8) rotate(-90)">4</text>
<line class="ax" x1="1686.8" y1="702.3" x2="1686.8" y2="720.3"/>
<text class="tk" x="1686.8" y="761.5">6</text>
<line class="ax" x1="1126.7" y1="232.9" x2="1108.7" y2="232.9"/>
<text class="tk" transform="translate(1086.2,232.9) rotate(-90)">6</text>
<line class="ax" x1="1838.2" y1="702.3" x2="1838.2" y2="720.3"/>
<text class="tk" x="1838.2" y="761.5">8</text>
<line class="ax" x1="1126.7" y1="106.1" x2="1108.7" y2="106.1"/>
<text class="tk" transform="translate(1086.2,106.1) rotate(-90)">8</text>
<text class="lb" x="1418.8" y="828.2" textLength="270.3" lengthAdjust="spacing">ET Lysimeter (mm d<tspan class="su" dy="-9.2">-1</tspan><tspan dy="9.2">)</tspan></text>
<text class="lb" transform="translate(1020.5,489.4) rotate(-90)" textLength="302.8" lengthAdjust="spacing">ET EC+Mauder (mm d<tspan class="su" dy="-9.2">-1</tspan><tspan dy="9.2">)</tspan></text>
<text class="lg" id="t1" x="1188.7" y="50.5"textLength="301" lengthAdjust="spacing">Deming Regression Fit (n=248)</text>
<line class="fit" x1="1151.7" y1="77.5" x2="1197.4" y2="77.5"/>
<text class="lg" id="e1" x="1213.8" y="84.7" textLength="354.1" lengthAdjust="spacing">0.24 + 1.09 * ET Lysimeter (mm d<tspan class="sl" dy="-9.3">-1</tspan><tspan dy="9.3">)</tspan></text>
<line class="idl" x1="1153.5" y1="104.5" x2="1195.7" y2="104.5"/>
<text class="lg" x="1213.8" y="110.7" textLength="70" lengthAdjust="spacing">identity</text>
<text class="pr" id="r1" x="1606.7" y="662.4" textLength="282.4" lengthAdjust="spacing">Pearson's r = 0.915</text>
</g>
<g id="panel3">
<g class="pt" clip-path="url(#c2)">
<circle cx="252.5" cy="1389.6" r="4.85"/>
<circle cx="282.8" cy="1375.0" r="4.85"/>
<circle cx="281.4" cy="1381.4" r="4.85"/>
<circle cx="322.4" cy="1377.8" r="4.85"/>
<circle cx="292.4" cy="1390.7" r="4.85"/>
<circle cx="307.8" cy="1385.0" r="4.85"/>
<circle cx="322.8" cy="1386.4" r="4.85"/>
<circle cx="337.8" cy="1372.9" r="4.85"/>
<circle cx="340.6" cy="1373.6" r="4.85"/>
<circle cx="280.7" cy="1400.0" r="4.85"/>
<circle cx="265.7" cy="1407.8" r="4.85"/>
<circle cx="265.0" cy="1412.8" r="4.85"/>
<circle cx="275.0" cy="1410.0" r="4.85"/>
<circle cx="287.4" cy="1406.4" r="4.85"/>
<circle cx="299.2" cy="1400.7" r="4.85"/>
<circle cx="298.9" cy="1408.5" r="4.85"/>
<circle cx="307.8" cy="1395.0" r="4.85"/>
<circle cx="313.5" cy="1400.0" r="4.85"/>
<circle cx="309.2" cy="1403.5" r="4.85"/>
<circle cx="330.6" cy="1390.0" r="4.85"/>
<circle cx="322.8" cy="1393.5" r="4.85"/>
<circle cx="324.9" cy="1404.3" r="4.85"/>
<circle cx="283.5" cy="1415.7" r="4.85"/>
<circle cx="291.4" cy="1419.9" r="4.85"/>
<circle cx="306.4" cy="1415.7" r="4.85"/>
<circle cx="360.6" cy="1400.0" r="4.85"/>
<circle cx="349.2" cy="1397.1" r="4.85"/>
<circle cx="364.9" cy="1388.6" r="4.85"/>
<circle cx="370.6" cy="1384.3" r="4.85"/>
<circle cx="373.4" cy="1393.5" r="4.85"/>
<circle cx="338.5" cy="1415.3" r="4.85"/>
<circle cx="344.9" cy="1415.3" r="4.85"/>
<circle cx="339.5" cy="1434.2" r="4.85"/>
<circle cx="354.9" cy="1433.5" r="4.85"/>
<circle cx="342.4" cy="1446.4" r="4.85"/>
<circle cx="337.4" cy="1457.8" r="4.85"/>
<circle cx="309.6" cy="1457.4" r="4.85"/>
<circle cx="298.1" cy="1476.3" r="4.85"/>
<circle cx="311.4" cy="1429.2" r="4.85"/>
<circle cx="301.4" cy="1436.4" r="4.85"/>
<circle cx="294.2" cy="1439.9" r="4.85"/>
<circle cx="251.4" cy="1437.8" r="4.85"/>
<circle cx="280.7" cy="1459.9" r="4.85"/>
<circle cx="265.0" cy="1469.9" r="4.85"/>
<circle cx="255.7" cy="1464.9" r="4.85"/>
<circle cx="265.7" cy="1427.1" r="4.85"/>
<circle cx="272.8" cy="1430.7" r="4.85"/>
<circle cx="279.2" cy="1434.2" r="4.85"/>
<circle cx="284.9" cy="1437.8" r="4.85"/>
<circle cx="258.5" cy="1441.4" r="4.85"/>
<circle cx="265.7" cy="1441.4" r="4.85"/>
<circle cx="272.8" cy="1441.4" r="4.85"/>
<circle cx="279.2" cy="1444.9" r="4.85"/>
<circle cx="252.8" cy="1452.1" r="4.85"/>
<circle cx="260.0" cy="1452.1" r="4.85"/>
<circle cx="267.1" cy="1452.1" r="4.85"/>
<circle cx="274.2" cy="1452.1" r="4.85"/>
<circle cx="281.4" cy="1452.1" r="4.85"/>
<circle cx="252.8" cy="1459.2" r="4.85"/>
<circle cx="263.5" cy="1460.6" r="4.85"/>
<circle cx="272.1" cy="1459.2" r="4.85"/>
<circle cx="297.8" cy="1427.1" r="4.85"/>
<circle cx="292.1" cy="1432.8" r="4.85"/>
<circle cx="284.9" cy="1429.2" r="4.85"/>
<circle cx="299.2" cy="1419.9" r="4.85"/>
<circle cx="258.4" cy="1332.3" r="4.85"/>
<circle cx="273.7" cy="1318.5" r="4.85"/>
<circle cx="307.4" cy="1299.6" r="4.85"/>
<circle cx="329.3" cy="1303.7" r="4.85"/>
<circle cx="367.0" cy="1274.7" r="4.85"/>
<circle cx="383.3" cy="1287.4" r="4.85"/>
<circle cx="385.9" cy="1300.1" r="4.85"/>
<circle cx="367.5" cy="1299.1" r="4.85"/>
<circle cx="362.9" cy="1303.7" r="4.85"/>
<circle cx="404.2" cy="1304.2" r="4.85"/>
<circle cx="421.5" cy="1278.2" r="4.85"/>
<circle cx="417.5" cy="1282.3" r="4.85"/>
<circle cx="426.6" cy="1294.0" r="4.85"/>
<circle cx="428.7" cy="1298.1" r="4.85"/>
<circle cx="427.7" cy="1244.1" r="4.85"/>
<circle cx="371.6" cy="1323.1" r="4.85"/>
<circle cx="383.8" cy="1323.6" r="4.85"/>
<circle cx="380.8" cy="1327.7" r="4.85"/>
<circle cx="350.2" cy="1335.3" r="4.85"/>
<circle cx="367.0" cy="1346.0" r="4.85"/>
<circle cx="314.5" cy="1352.1" r="4.85"/>
<circle cx="340.0" cy="1351.1" r="4.85"/>
<circle cx="351.2" cy="1351.6" r="4.85"/>
<circle cx="361.9" cy="1355.2" r="4.85"/>
<circle cx="327.8" cy="1364.4" r="4.85"/>
<circle cx="335.9" cy="1368.4" r="4.85"/>
<circle cx="361.4" cy="1368.4" r="4.85"/>
<circle cx="419.5" cy="1321.5" r="4.85"/>
<circle cx="421.5" cy="1333.8" r="4.85"/>
<circle cx="408.3" cy="1337.9" r="4.85"/>
<circle cx="395.0" cy="1354.2" r="4.85"/>
<circle cx="404.2" cy="1354.2" r="4.85"/>
<circle cx="418.5" cy="1357.2" r="4.85"/>
<circle cx="426.6" cy="1364.9" r="4.85"/>
<circle cx="385.9" cy="1373.5" r="4.85"/>
<circle cx="399.1" cy="1369.5" r="4.85"/>
<circle cx="412.4" cy="1371.5" r="4.85"/>
<circle cx="377.7" cy="1377.6" r="4.85"/>
<circle cx="387.9" cy="1378.6" r="4.85"/>
<circle cx="394.9" cy="1464.6" r="4.85"/>
<circle cx="432.6" cy="1400.8" r="4.85"/>
<circle cx="450.9" cy="1396.3" r="4.85"/>
<circle cx="405.6" cy="1394.7" r="4.85"/>
<circle cx="417.3" cy="1389.6" r="4.85"/>
<circle cx="447.4" cy="1383.5" r="4.85"/>
<circle cx="456.5" cy="1379.4" r="4.85"/>
<circle cx="441.3" cy="1374.9" r="4.85"/>
<circle cx="401.0" cy="1378.4" r="4.85"/>
<circle cx="409.7" cy="1372.8" r="4.85"/>
<circle cx="384.2" cy="1381.0" r="4.85"/>
<circle cx="387.2" cy="1384.0" r="4.85"/>
<circle cx="381.1" cy="1382.0" r="4.85"/>
<circle cx="385.2" cy="1389.1" r="4.85"/>
<circle cx="436.2" cy="1337.1" r="4.85"/>
<circle cx="435.1" cy="1344.3" r="4.85"/>
<circle cx="437.2" cy="1349.4" r="4.85"/>
<circle cx="436.2" cy="1352.4" r="4.85"/>
<circle cx="440.2" cy="1345.3" r="4.85"/>
<circle cx="445.8" cy="1361.1" r="4.85"/>
<circle cx="455.5" cy="1343.3" r="4.85"/>
<circle cx="466.2" cy="1357.5" r="4.85"/>
<circle cx="478.0" cy="1348.3" r="4.85"/>
<circle cx="486.6" cy="1349.4" r="4.85"/>
<circle cx="497.8" cy="1338.7" r="4.85"/>
<circle cx="509.6" cy="1349.4" r="4.85"/>
<circle cx="472.9" cy="1333.6" r="4.85"/>
<circle cx="558.5" cy="1336.6" r="4.85"/>
<circle cx="446.4" cy="1329.0" r="4.85"/>
<circle cx="462.7" cy="1329.0" r="4.85"/>
<circle cx="452.5" cy="1207.3" r="4.85"/>
<circle cx="442.8" cy="1220.6" r="4.85"/>
<circle cx="402.5" cy="1237.4" r="4.85"/>
<circle cx="444.8" cy="1248.1" r="4.85"/>
<circle cx="475.9" cy="1220.6" r="4.85"/>
<circle cx="489.7" cy="1227.7" r="4.85"/>
<circle cx="511.6" cy="1209.4" r="4.85"/>
<circle cx="511.6" cy="1195.6" r="4.85"/>
<circle cx="517.7" cy="1190.0" r="4.85"/>
<circle cx="525.9" cy="1201.2" r="4.85"/>
<circle cx="549.3" cy="1214.5" r="4.85"/>
<circle cx="568.7" cy="1217.5" r="4.85"/>
<circle cx="569.2" cy="1228.7" r="4.85"/>
<circle cx="549.8" cy="1237.4" r="4.85"/>
<circle cx="550.8" cy="1261.4" r="4.85"/>
<circle cx="492.7" cy="1254.2" r="4.85"/>
<circle cx="467.3" cy="1260.3" r="4.85"/>
<circle cx="472.9" cy="1260.3" r="4.85"/>
<circle cx="449.4" cy="1266.5" r="4.85"/>
<circle cx="455.5" cy="1283.3" r="4.85"/>
<circle cx="488.1" cy="1286.3" r="4.85"/>
<circle cx="494.8" cy="1296.0" r="4.85"/>
<circle cx="479.0" cy="1307.2" r="4.85"/>
<circle cx="462.7" cy="1309.3" r="4.85"/>
<circle cx="454.0" cy="1312.3" r="4.85"/>
<circle cx="444.8" cy="1318.4" r="4.85"/>
<circle cx="494.8" cy="1318.4" r="4.85"/>
<circle cx="511.6" cy="1311.3" r="4.85"/>
<circle cx="518.2" cy="1300.6" r="4.85"/>
<circle cx="523.8" cy="1291.4" r="4.85"/>
<circle cx="531.5" cy="1303.1" r="4.85"/>
<circle cx="529.9" cy="1313.9" r="4.85"/>
<circle cx="538.6" cy="1321.5" r="4.85"/>
<circle cx="559.5" cy="1306.2" r="4.85"/>
<circle cx="551.9" cy="1287.3" r="4.85"/>
<circle cx="542.2" cy="1279.7" r="4.85"/>
<circle cx="554.4" cy="1275.1" r="4.85"/>
<circle cx="571.7" cy="1277.7" r="4.85"/>
<circle cx="456.5" cy="1321.5" r="4.85"/>
<circle cx="460.6" cy="1324.6" r="4.85"/>
<circle cx="464.7" cy="1326.6" r="4.85"/>
<circle cx="454.5" cy="1327.1" r="4.85"/>
<circle cx="471.8" cy="1329.7" r="4.85"/>
<circle cx="586.6" cy="1206.5" r="4.85"/>
<circle cx="658.5" cy="1196.3" r="4.85"/>
<circle cx="680.4" cy="1199.4" r="4.85"/>
<circle cx="667.6" cy="1222.3" r="4.85"/>
<circle cx="628.9" cy="1220.3" r="4.85"/>
<circle cx="613.1" cy="1240.7" r="4.85"/>
<circle cx="601.4" cy="1251.4" r="4.85"/>
<circle cx="600.9" cy="1259.0" r="4.85"/>
<circle cx="624.3" cy="1256.5" r="4.85"/>
<circle cx="588.6" cy="1267.7" r="4.85"/>
<circle cx="650.3" cy="1102.7" r="4.85"/>
<circle cx="594.2" cy="1143.0" r="4.85"/>
<circle cx="642.7" cy="1137.3" r="4.85"/>
<circle cx="672.2" cy="1161.8" r="4.85"/>
<circle cx="740.5" cy="1141.4" r="4.85"/>
<circle cx="731.4" cy="1153.1" r="4.85"/>
<circle cx="746.6" cy="1173.0" r="4.85"/>
<circle cx="765.4" cy="1093.4" r="4.85"/>
<circle cx="541.7" cy="1051.2" r="4.85"/>
<circle cx="475.4" cy="1167.4" r="4.85"/>
<circle cx="557.0" cy="1182.7" r="4.85"/>
<circle cx="289.3" cy="987.0" r="4.85"/>
<circle cx="259.5" cy="1128.3" r="4.85"/>
<circle class="f" cx="250.5" cy="1452.1" r="4.5"/>
<circle class="f" cx="250.5" cy="1459.7" r="4.5"/>
<circle class="f" cx="258.1" cy="1442.9" r="4.5"/>
<circle class="f" cx="258.1" cy="1455.1" r="4.5"/>
<circle class="f" cx="258.1" cy="1464.3" r="4.5"/>
<circle class="f" cx="265.7" cy="1430.7" r="4.5"/>
<circle class="f" cx="265.7" cy="1439.8" r="4.5"/>
<circle class="f" cx="265.7" cy="1450.6" r="4.5"/>
<circle class="f" cx="265.7" cy="1459.7" r="4.5"/>
<circle class="f" cx="273.4" cy="1427.6" r="4.5"/>
<circle class="f" cx="273.4" cy="1436.8" r="4.5"/>
<circle class="f" cx="273.4" cy="1446.0" r="4.5"/>
<circle class="f" cx="273.4" cy="1455.1" r="4.5"/>
<circle class="f" cx="281.0" cy="1436.8" r="4.5"/>
<circle class="f" cx="281.0" cy="1446.0" r="4.5"/>
<circle class="f" cx="261.2" cy="1468.9" r="4.5"/>
<circle class="f" cx="285.6" cy="1441.4" r="4.5"/>
<circle class="f" cx="297.9" cy="1432.2" r="3"/>
<circle class="f" cx="304.0" cy="1436.8" r="3"/>
<circle class="f" cx="385.0" cy="1381.7" r="3"/>
<circle class="f" cx="438.5" cy="1343.5" r="3"/>
<circle class="f" cx="282.6" cy="1375.6" r="3"/>
<circle class="f" cx="459.9" cy="1323.6" r="3"/>
<circle class="f" cx="549.4" cy="1237.5" r="3"/>
<line x1="298.7" y1="982.4" x2="308.3" y2="982.4" stroke="#000" stroke-width="1.6"/>
</g>
<g class="ln" clip-path="url(#c2)">
<line class="fit" x1="139.4" y1="1585.9" x2="968.3" y2="808.0"/>
<line class="idn" stroke-dashoffset="3.1" x1="143.2" y1="1553.3" x2="960.7" y2="868.3"/>
</g>
<rect class="ax" x="143.2" y="868.3" width="817.5" height="685.0"/>
<line class="ax" x1="249.2" y1="1553.3" x2="249.2" y2="1571.3"/>
<text class="tk" x="249.2" y="1612.5">0</text>
<line class="ax" x1="143.2" y1="1464.5" x2="125.2" y2="1464.5"/>
<text class="tk" transform="translate(102.7,1464.5) rotate(-90)">0</text>
<line class="ax" x1="400.6" y1="1553.3" x2="400.6" y2="1571.3"/>
<text class="tk" x="400.6" y="1612.5">2</text>
<line class="ax" x1="143.2" y1="1337.7" x2="125.2" y2="1337.7"/>
<text class="tk" transform="translate(102.7,1337.7) rotate(-90)">2</text>
<line class="ax" x1="552.0" y1="1553.3" x2="552.0" y2="1571.3"/>
<text class="tk" x="552.0" y="1612.5">4</text>
<line class="ax" x1="143.2" y1="1210.8" x2="125.2" y2="1210.8"/>
<text class="tk" transform="translate(102.7,1210.8) rotate(-90)">4</text>
<line class="ax" x1="703.3" y1="1553.3" x2="703.3" y2="1571.3"/>
<text class="tk" x="703.3" y="1612.5">6</text>
<line class="ax" x1="143.2" y1="1083.9" x2="125.2" y2="1083.9"/>
<text class="tk" transform="translate(102.7,1083.9) rotate(-90)">6</text>
<line class="ax" x1="854.7" y1="1553.3" x2="854.7" y2="1571.3"/>
<text class="tk" x="854.7" y="1612.5">8</text>
<line class="ax" x1="143.2" y1="957.1" x2="125.2" y2="957.1"/>
<text class="tk" transform="translate(102.7,957.1) rotate(-90)">8</text>
<text class="lb" x="435.3" y="1670.6" textLength="270.3" lengthAdjust="spacing">ET Lysimeter (mm d<tspan class="su" dy="-9.2">-1</tspan><tspan dy="9.2">)</tspan></text>
<text class="lb" transform="translate(44.6,1382.9) rotate(-90)" textLength="385.5" lengthAdjust="spacing">ET EC+Charuchittipan (mm d<tspan class="su" dy="-9.2">-1</tspan><tspan dy="9.2">)</tspan></text>
<text class="lg" id="t2" x="212.2" y="892.4"textLength="301" lengthAdjust="spacing">Deming Regression Fit (n=255)</text>
<line class="fit" x1="168.2" y1="928.5" x2="213.9" y2="928.5"/>
<text class="lg" id="e2" x="231.6" y="927.4" textLength="366.4" lengthAdjust="spacing">−0.29 + 1.12 * ET Lysimeter (mm d<tspan class="sl" dy="-9.3">-1</tspan><tspan dy="9.3">)</tspan></text>
<line class="idl" x1="170.0" y1="955.5" x2="212.2" y2="955.5"/>
<text class="lg" x="231.6" y="954.0" textLength="70" lengthAdjust="spacing">identity</text>
<text class="pr" id="r2" x="623.2" y="1504.5" textLength="282.4" lengthAdjust="spacing">Pearson's r = 0.628</text>
</g>
<g id="panel4">
<g class="pt" clip-path="url(#c3)">
<circle cx="1267.8" cy="1370.7" r="4.85"/>
<circle cx="1272.8" cy="1370.7" r="4.85"/>
<circle cx="1290.6" cy="1367.8" r="4.85"/>
<circle cx="1298.5" cy="1363.6" r="4.85"/>
<circle cx="1284.9" cy="1376.1" r="4.85"/>
<circle cx="1292.1" cy="1381.4" r="4.85"/>
<circle cx="1305.3" cy="1373.6" r="4.85"/>
<circle cx="1264.2" cy="1382.8" r="4.85"/>
<circle cx="1267.8" cy="1384.3" r="4.85"/>
<circle cx="1248.9" cy="1391.8" r="4.85"/>
<circle cx="1257.1" cy="1395.0" r="4.85"/>
<circle cx="1265.7" cy="1392.8" r="4.85"/>
<circle cx="1280.7" cy="1386.4" r="4.85"/>
<circle cx="1292.1" cy="1390.7" r="4.85"/>
<circle cx="1267.1" cy="1400.7" r="4.85"/>
<circle cx="1241.4" cy="1409.9" r="4.85"/>
<circle cx="1250.7" cy="1413.5" r="4.85"/>
<circle cx="1254.3" cy="1413.5" r="4.85"/>
<circle cx="1260.7" cy="1414.9" r="4.85"/>
<circle cx="1267.1" cy="1408.5" r="4.85"/>
<circle cx="1269.9" cy="1418.5" r="4.85"/>
<circle cx="1242.1" cy="1427.1" r="4.85"/>
<circle cx="1235.3" cy="1434.9" r="4.85"/>
<circle cx="1294.9" cy="1420.7" r="4.85"/>
<circle cx="1327.7" cy="1418.5" r="4.85"/>
<circle cx="1323.1" cy="1431.7" r="4.85"/>
<circle cx="1338.5" cy="1444.2" r="4.85"/>
<circle cx="1320.6" cy="1458.5" r="4.85"/>
<circle cx="1291.4" cy="1442.1" r="4.85"/>
<circle cx="1275.7" cy="1450.3" r="4.85"/>
<circle cx="1282.8" cy="1429.9" r="4.85"/>
<circle cx="1281.4" cy="1437.1" r="4.85"/>
<circle cx="1324.2" cy="1391.4" r="4.85"/>
<circle cx="1324.2" cy="1400.0" r="4.85"/>
<circle cx="1317.8" cy="1397.1" r="4.85"/>
<circle cx="1350.6" cy="1377.8" r="4.85"/>
<circle cx="1358.4" cy="1367.1" r="4.85"/>
<circle cx="1355.6" cy="1374.3" r="4.85"/>
<circle cx="1284.2" cy="1395.7" r="4.85"/>
<circle cx="1287.8" cy="1400.0" r="4.85"/>
<circle cx="1282.8" cy="1402.8" r="4.85"/>
<circle cx="1278.5" cy="1408.5" r="4.85"/>
<circle cx="1274.2" cy="1412.8" r="4.85"/>
<circle cx="1260.0" cy="1422.8" r="4.85"/>
<circle cx="1254.3" cy="1427.1" r="4.85"/>
<circle cx="1248.5" cy="1431.4" r="4.85"/>
<circle cx="1244.3" cy="1437.1" r="4.85"/>
<circle cx="1252.1" cy="1434.9" r="4.85"/>
<circle cx="1258.5" cy="1431.4" r="4.85"/>
<circle cx="1241.4" cy="1444.2" r="4.85"/>
<circle cx="1248.5" cy="1445.6" r="4.85"/>
<circle cx="1255.7" cy="1442.1" r="4.85"/>
<circle cx="1261.4" cy="1438.5" r="4.85"/>
<circle cx="1265.7" cy="1444.2" r="4.85"/>
<circle cx="1260.0" cy="1449.2" r="4.85"/>
<circle cx="1252.1" cy="1452.8" r="4.85"/>
<circle cx="1245.0" cy="1454.2" r="4.85"/>
<circle cx="1237.8" cy="1452.8" r="4.85"/>
<circle cx="1234.3" cy="1447.8" r="4.85"/>
<circle cx="1241.4" cy="1459.9" r="4.85"/>
<circle cx="1248.5" cy="1461.3" r="4.85"/>
<circle cx="1255.7" cy="1459.9" r="4.85"/>
<circle cx="1262.8" cy="1458.5" r="4.85"/>
<circle cx="1264.2" cy="1452.8" r="4.85"/>
<circle cx="1247.1" cy="1465.6" r="4.85"/>
<circle cx="1260.0" cy="1464.2" r="4.85"/>
<circle cx="1237.1" cy="1459.9" r="4.85"/>
<circle cx="1305.6" cy="1383.5" r="4.85"/>
<circle cx="1311.3" cy="1380.0" r="4.85"/>
<circle cx="1316.3" cy="1375.7" r="4.85"/>
<circle cx="1322.0" cy="1370.7" r="4.85"/>
<circle cx="1327.0" cy="1367.1" r="4.85"/>
<circle cx="1309.2" cy="1390.0" r="4.85"/>
<circle cx="1304.2" cy="1392.1" r="4.85"/>
<circle cx="1314.9" cy="1384.3" r="4.85"/>
<circle cx="1319.9" cy="1378.6" r="4.85"/>
<circle cx="1325.6" cy="1374.3" r="4.85"/>
<circle cx="1331.3" cy="1369.3" r="4.85"/>
<circle cx="1335.6" cy="1364.3" r="4.85"/>
<circle cx="1341.3" cy="1362.9" r="4.85"/>
<circle cx="1387.7" cy="1256.6" r="4.85"/>
<circle cx="1350.5" cy="1291.8" r="4.85"/>
<circle cx="1366.3" cy="1306.6" r="4.85"/>
<circle cx="1411.1" cy="1284.1" r="4.85"/>
<circle cx="1402.5" cy="1297.4" r="4.85"/>
<circle cx="1409.6" cy="1297.9" r="4.85"/>
<circle cx="1411.6" cy="1305.0" r="4.85"/>
<circle cx="1404.5" cy="1311.2" r="4.85"/>
<circle cx="1385.6" cy="1315.7" r="4.85"/>
<circle cx="1386.2" cy="1330.0" r="4.85"/>
<circle cx="1413.7" cy="1321.4" r="4.85"/>
<circle cx="1334.7" cy="1335.1" r="4.85"/>
<circle cx="1355.1" cy="1337.2" r="4.85"/>
<circle cx="1369.3" cy="1340.2" r="4.85"/>
<circle cx="1344.9" cy="1343.8" r="4.85"/>
<circle cx="1355.6" cy="1347.9" r="4.85"/>
<circle cx="1311.2" cy="1351.9" r="4.85"/>
<circle cx="1298.0" cy="1355.0" r="4.85"/>
<circle cx="1298.5" cy="1361.1" r="4.85"/>
<circle cx="1329.1" cy="1360.1" r="4.85"/>
<circle cx="1337.2" cy="1356.0" r="4.85"/>
<circle cx="1332.1" cy="1364.2" r="4.85"/>
<circle cx="1346.4" cy="1353.0" r="4.85"/>
<circle cx="1323.0" cy="1368.2" r="4.85"/>
<circle cx="1315.8" cy="1372.3" r="4.85"/>
<circle cx="1321.9" cy="1377.4" r="4.85"/>
<circle cx="1369.3" cy="1360.6" r="4.85"/>
<circle cx="1382.1" cy="1356.0" r="4.85"/>
<circle cx="1397.4" cy="1347.9" r="4.85"/>
<circle cx="1403.5" cy="1343.8" r="4.85"/>
<circle cx="1401.4" cy="1353.0" r="4.85"/>
<circle cx="1410.6" cy="1341.7" r="4.85"/>
<circle cx="1417.8" cy="1337.7" r="4.85"/>
<circle cx="1418.8" cy="1345.8" r="4.85"/>
<circle cx="1415.7" cy="1365.7" r="4.85"/>
<circle cx="1389.2" cy="1374.9" r="4.85"/>
<circle cx="1379.0" cy="1367.2" r="4.85"/>
<circle cx="1372.9" cy="1372.3" r="4.85"/>
<circle cx="1379.0" cy="1376.4" r="4.85"/>
<circle cx="1357.6" cy="1370.3" r="4.85"/>
<circle cx="1362.7" cy="1377.4" r="4.85"/>
<circle cx="1355.6" cy="1379.5" r="4.85"/>
<circle cx="1367.8" cy="1386.6" r="4.85"/>
<circle cx="1343.3" cy="1371.3" r="4.85"/>
<circle cx="1476.5" cy="1228.7" r="4.85"/>
<circle cx="1556.5" cy="1232.2" r="4.85"/>
<circle cx="1595.7" cy="1224.1" r="4.85"/>
<circle cx="1526.4" cy="1222.0" r="4.85"/>
<circle cx="1401.5" cy="1242.9" r="4.85"/>
<circle cx="1426.0" cy="1242.9" r="4.85"/>
<circle cx="1436.2" cy="1243.4" r="4.85"/>
<circle cx="1432.6" cy="1256.2" r="4.85"/>
<circle cx="1459.6" cy="1239.4" r="4.85"/>
<circle cx="1462.2" cy="1245.5" r="4.85"/>
<circle cx="1451.0" cy="1253.6" r="4.85"/>
<circle cx="1471.4" cy="1256.7" r="4.85"/>
<circle cx="1478.5" cy="1262.8" r="4.85"/>
<circle cx="1455.6" cy="1264.9" r="4.85"/>
<circle cx="1445.4" cy="1272.5" r="4.85"/>
<circle cx="1508.1" cy="1256.2" r="4.85"/>
<circle cx="1525.4" cy="1261.3" r="4.85"/>
<circle cx="1500.9" cy="1266.9" r="4.85"/>
<circle cx="1514.2" cy="1268.9" r="4.85"/>
<circle cx="1515.2" cy="1271.5" r="4.85"/>
<circle cx="1521.8" cy="1274.5" r="4.85"/>
<circle cx="1535.6" cy="1250.6" r="4.85"/>
<circle cx="1537.6" cy="1253.6" r="4.85"/>
<circle cx="1542.2" cy="1260.3" r="4.85"/>
<circle cx="1542.9" cy="1261.3" r="4.85"/>
<circle cx="1584.5" cy="1254.1" r="4.85"/>
<circle cx="1572.3" cy="1267.4" r="4.85"/>
<circle cx="1552.4" cy="1307.7" r="4.85"/>
<circle cx="1478.5" cy="1283.7" r="4.85"/>
<circle cx="1493.3" cy="1291.9" r="4.85"/>
<circle cx="1494.3" cy="1293.2" r="4.85"/>
<circle cx="1463.2" cy="1283.2" r="4.85"/>
<circle cx="1459.1" cy="1289.3" r="4.85"/>
<circle cx="1451.0" cy="1295.4" r="4.85"/>
<circle cx="1428.5" cy="1286.3" r="4.85"/>
<circle cx="1418.9" cy="1292.4" r="4.85"/>
<circle cx="1429.6" cy="1294.4" r="4.85"/>
<circle cx="1439.8" cy="1291.4" r="4.85"/>
<circle cx="1403.1" cy="1298.5" r="4.85"/>
<circle cx="1412.2" cy="1303.6" r="4.85"/>
<circle cx="1423.4" cy="1315.8" r="4.85"/>
<circle cx="1437.2" cy="1312.8" r="4.85"/>
<circle cx="1440.8" cy="1306.6" r="4.85"/>
<circle cx="1445.9" cy="1304.6" r="4.85"/>
<circle cx="1456.6" cy="1319.9" r="4.85"/>
<circle cx="1470.3" cy="1310.2" r="4.85"/>
<circle cx="1481.5" cy="1308.2" r="4.85"/>
<circle cx="1429.6" cy="1334.7" r="4.85"/>
<circle cx="1417.8" cy="1335.2" r="4.85"/>
<circle cx="1422.4" cy="1341.3" r="4.85"/>
<circle cx="1420.4" cy="1345.4" r="4.85"/>
<circle cx="1406.1" cy="1342.3" r="4.85"/>
<circle cx="1402.0" cy="1344.4" r="4.85"/>
<circle cx="1430.5" cy="1375.5" r="4.85"/>
<circle cx="1434.6" cy="1406.9" r="4.85"/>
<circle cx="1393.4" cy="1396.7" r="4.85"/>
<circle cx="1360.4" cy="1378.3" r="4.85"/>
<circle cx="1364.5" cy="1374.3" r="4.85"/>
<circle cx="1392.2" cy="1353.9" r="4.85"/>
<circle cx="1397.1" cy="1350.6" r="4.85"/>
<circle cx="1394.6" cy="1346.5" r="4.85"/>
<circle cx="1409.3" cy="1344.9" r="4.85"/>
<circle cx="1425.6" cy="1342.4" r="4.85"/>
<circle cx="1351.4" cy="1349.0" r="4.85"/>
<circle cx="1357.9" cy="1346.5" r="4.85"/>
<circle cx="1344.1" cy="1356.3" r="4.85"/>
<circle cx="1569.7" cy="1172.5" r="4.85"/>
<circle cx="1615.6" cy="1149.6" r="4.85"/>
<circle cx="1655.3" cy="1134.3" r="4.85"/>
<circle cx="1664.0" cy="1134.8" r="4.85"/>
<circle cx="1650.7" cy="1161.3" r="4.85"/>
<circle cx="1612.5" cy="1186.8" r="4.85"/>
<circle cx="1625.7" cy="1203.6" r="4.85"/>
<circle cx="1607.4" cy="1210.7" r="4.85"/>
<circle cx="1729.2" cy="1127.1" r="4.85"/>
<circle cx="1748.6" cy="1121.0" r="4.85"/>
<circle cx="1750.1" cy="1144.5" r="4.85"/>
<circle cx="1577.3" cy="1117.4" r="4.85"/>
<circle cx="1633.4" cy="1120.5" r="4.85"/>
<circle cx="1714.4" cy="1100.1" r="4.85"/>
<circle cx="1724.1" cy="1111.3" r="4.85"/>
<circle cx="1494.7" cy="1168.3" r="4.85"/>
<circle cx="1553.3" cy="1171.4" r="4.85"/>
<circle cx="1540.6" cy="1179.5" r="4.85"/>
<circle cx="1532.4" cy="1188.2" r="4.85"/>
<circle cx="1533.4" cy="1196.8" r="4.85"/>
<circle cx="1494.7" cy="1191.2" r="4.85"/>
<circle cx="1509.5" cy="1190.2" r="4.85"/>
<circle cx="1499.8" cy="1197.9" r="4.85"/>
<circle cx="1463.6" cy="1203.5" r="4.85"/>
<circle cx="1534.4" cy="1212.6" r="4.85"/>
<circle cx="1534.9" cy="1221.3" r="4.85"/>
<circle cx="1367.2" cy="1247.5" r="4.85"/>
<circle class="f" cx="1238.1" cy="1436.8" r="4.5"/>
<circle class="f" cx="1238.1" cy="1446.0" r="4.5"/>
<circle class="f" cx="1241.2" cy="1455.1" r="4.5"/>
<circle class="f" cx="1245.7" cy="1427.6" r="4.5"/>
<circle class="f" cx="1247.3" cy="1436.8" r="4.5"/>
<circle class="f" cx="1247.3" cy="1447.5" r="4.5"/>
<circle class="f" cx="1248.8" cy="1458.2" r="4.5"/>
<circle class="f" cx="1256.5" cy="1433.7" r="4.5"/>
<circle class="f" cx="1256.5" cy="1444.4" r="4.5"/>
<circle class="f" cx="1256.5" cy="1455.1" r="4.5"/>
<circle class="f" cx="1264.1" cy="1442.9" r="4.5"/>
<circle class="f" cx="1264.1" cy="1453.6" r="4.5"/>
<circle class="f" cx="1259.5" cy="1462.8" r="4.5"/>
<circle class="f" cx="1250.3" cy="1464.3" r="4.5"/>
<circle class="f" cx="1284.0" cy="1397.0" r="3"/>
<circle class="f" cx="1287.0" cy="1390.9" r="3"/>
<circle class="f" cx="1310.0" cy="1381.7" r="3"/>
<circle class="f" cx="1314.6" cy="1375.6" r="3"/>
<circle class="f" cx="1320.7" cy="1397.0" r="3"/>
<circle class="f" cx="1322.2" cy="1401.6" r="3"/>
<circle class="f" cx="1352.8" cy="1375.6" r="3"/>
<circle class="f" cx="1357.4" cy="1372.6" r="3"/>
<circle class="f" cx="1348.2" cy="1351.2" r="3"/>
<circle class="f" cx="1351.3" cy="1357.3" r="3"/>
<circle class="f" cx="1398.7" cy="1345.0" r="3"/>
<circle class="f" cx="1421.6" cy="1338.9" r="3"/>
<circle class="f" cx="1365.8" cy="1306.8" r="3"/>
</g>
<g class="ln" clip-path="url(#c3)">
<line class="fit" x1="1122.9" y1="1534.3" x2="1951.8" y2="916.2"/>
<line class="idn" stroke-dashoffset="3.1" x1="1126.7" y1="1553.3" x2="1944.2" y2="868.3"/>
</g>
<rect class="ax" x="1126.7" y="868.3" width="817.5" height="685.0"/>
<line class="ax" x1="1232.7" y1="1553.3" x2="1232.7" y2="1571.3"/>
<text class="tk" x="1232.7" y="1612.5">0</text>
<line class="ax" x1="1126.7" y1="1464.5" x2="1108.7" y2="1464.5"/>
<text class="tk" transform="translate(1086.2,1464.5) rotate(-90)">0</text>
<line class="ax" x1="1384.1" y1="1553.3" x2="1384.1" y2="1571.3"/>
<text class="tk" x="1384.1" y="1612.5">2</text>
<line class="ax" x1="1126.7" y1="1337.7" x2="1108.7" y2="1337.7"/>
<text class="tk" transform="translate(1086.2,1337.7) rotate(-90)">2</text>
<line class="ax" x1="1535.5" y1="1553.3" x2="1535.5" y2="1571.3"/>
<text class="tk" x="1535.5" y="1612.5">4</text>
<line class="ax" x1="1126.7" y1="1210.8" x2="1108.7" y2="1210.8"/>
<text class="tk" transform="translate(1086.2,1210.8) rotate(-90)">4</text>
<line class="ax" x1="1686.8" y1="1553.3" x2="1686.8" y2="1571.3"/>
<text class="tk" x="1686.8" y="1612.5">6</text>
<line class="ax" x1="1126.7" y1="1083.9" x2="1108.7" y2="1083.9"/>
<text class="tk" transform="translate(1086.2,1083.9) rotate(-90)">6</text>
<line class="ax" x1="1838.2" y1="1553.3" x2="1838.2" y2="1571.3"/>
<text class="tk" x="1838.2" y="1612.5">8</text>
<line class="ax" x1="1126.7" y1="957.1" x2="1108.7" y2="957.1"/>
<text class="tk" transform="translate(1086.2,957.1) rotate(-90)">8</text>
<text class="lb" x="1418.8" y="1670.6" textLength="270.3" lengthAdjust="spacing">ET Lysimeter (mm d<tspan class="su" dy="-9.2">-1</tspan><tspan dy="9.2">)</tspan></text>
<text class="lb" transform="translate(1028.1,1336.5) rotate(-90)" textLength="289.4" lengthAdjust="spacing">ET EC+DeRoo (mm d<tspan class="su" dy="-9.2">-1</tspan><tspan dy="9.2">)</tspan></text>
<text class="lg" id="t3" x="1188.7" y="892.5"textLength="301" lengthAdjust="spacing">Deming Regression Fit (n=248)</text>
<line class="fit" x1="1151.7" y1="928.5" x2="1197.4" y2="928.5"/>
<text class="lg" id="e3" x="1213.8" y="927.4" textLength="354.1" lengthAdjust="spacing">0.19 + 0.89 * ET Lysimeter (mm d<tspan class="sl" dy="-9.3">-1</tspan><tspan dy="9.3">)</tspan></text>
<line class="idl" x1="1153.5" y1="955.5" x2="1195.7" y2="955.5"/>
<text class="lg" x="1213.8" y="954.0" textLength="70" lengthAdjust="spacing">identity</text>
<text class="pr" id="r3" x="1606.7" y="1504.5" textLength="282.4" lengthAdjust="spacing">Pearson's r = 0.937</text>
</g>
</svg></body></html>
